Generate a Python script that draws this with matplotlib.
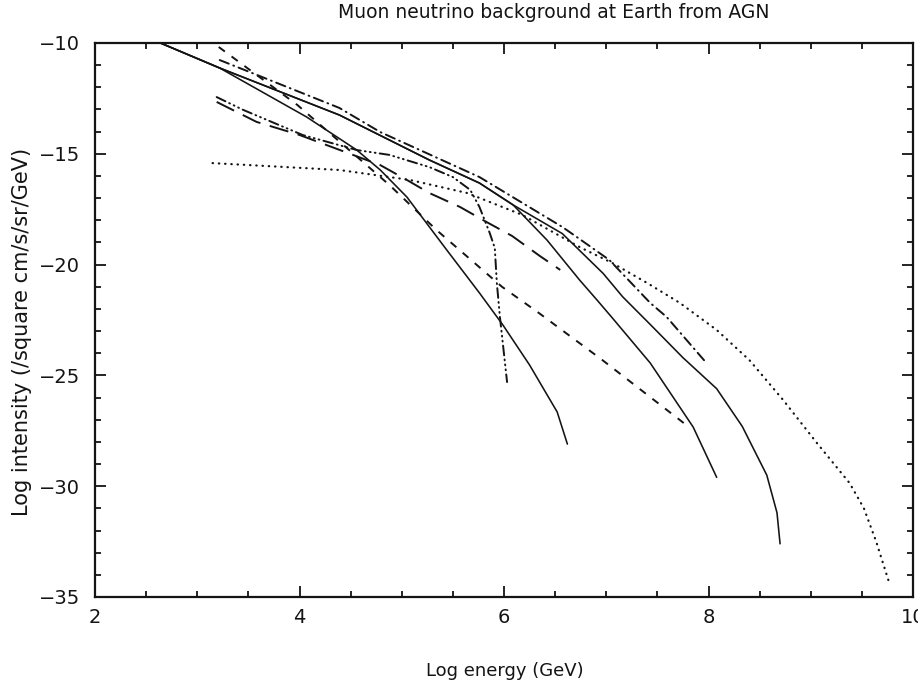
import matplotlib
matplotlib.use("Agg")
import matplotlib.pyplot as plt
from matplotlib.ticker import MultipleLocator

plt.rcParams['font.family'] = ['DejaVu Sans']
plt.rcParams['lines.scale_dashes'] = False

# ---- data (log10 energy [GeV], log10 intensity) ----
solid_a_x = [2.64, 3.22, 4.07, 4.56, 4.79, 5.05, 5.44, 5.76, 5.99, 6.25, 6.52, 6.62]
solid_a_y = [-10.0, -11.13, -13.34, -14.83, -15.73, -16.95, -19.34, -21.28, -22.73, -24.53, -26.65, -28.1]

shared_x = [2.64, 3.22, 4.39, 5.27, 5.76, 6.09]
shared_y = [-10.0, -11.13, -13.25, -15.28, -16.32, -17.31]

solid_b_x = shared_x + [6.42, 6.74, 6.91, 7.06, 7.43, 7.85, 8.08]
solid_b_y = shared_y + [-18.89, -20.7, -21.6, -22.41, -24.44, -27.33, -29.6]

solid_c_x = shared_x + [6.57, 6.97, 7.16, 7.43, 7.75, 8.08, 8.33, 8.57, 8.67, 8.70]
solid_c_y = shared_y + [-18.6, -20.4, -21.45, -22.7, -24.2, -25.6, -27.3, -29.5, -31.2, -32.6]

dotted_x = [3.15, 4.39, 5.08, 5.64, 6.18, 6.74, 7.06, 7.40, 7.72, 8.08, 8.40, 8.73, 9.06, 9.38, 9.52, 9.64, 9.77]
dotted_y = [-15.42, -15.73, -16.18, -16.77, -17.76, -19.21, -19.93, -20.83, -21.73, -22.95, -24.31,
            -26.11, -28.05, -29.86, -31.0, -32.5, -34.4]

dashdot_x = [3.22, 4.39, 4.79, 5.76, 6.57, 6.71, 7.03, 7.43, 7.59, 7.98]
dashdot_y = [-10.77, -12.93, -14.02, -16.05, -18.3, -18.75, -19.79, -21.73, -22.36, -24.44]

dashed_x = [3.21, 3.98, 4.88, 5.34, 5.98, 6.34, 6.96, 7.80]
dashed_y = [-10.18, -12.80, -16.41, -18.44, -21.0, -22.18, -24.3, -27.3]

dash3dot_x = [3.19, 3.45, 4.03, 4.56, 4.88, 5.27, 5.50, 5.67, 5.76, 5.86, 5.91, 5.93, 5.96, 6.03]
dash3dot_y = [-12.44, -13.02, -14.15, -14.83, -15.05, -15.6, -16.05, -16.63, -17.4, -18.57, -19.25,
              -20.83, -22.36, -25.3]

longdash_x = [3.19, 3.58, 4.0, 4.79, 5.05, 5.27, 5.57, 5.83, 6.08, 6.35, 6.55]
longdash_y = [-12.66, -13.56, -14.15, -15.51, -16.18, -16.77, -17.4, -18.08, -18.71, -19.61, -20.24]

x_ticks = [2, 4, 6, 8, 10]
y_ticks = [-35, -30, -25, -20, -15, -10]
title = "Muon neutrino background at Earth from AGN"
xlabel = "Log energy (GeV)"
ylabel = "Log intensity (/square cm/s/sr/GeV)"

# ---- figure ----
W, H = 918, 690
fig = plt.figure(figsize=(W / 100, H / 100), dpi=100)
ax = fig.add_axes([95 / W, 1 - 597 / H, (913 - 95) / W, (597 - 43) / H])

ink = '#141414'
lw = 1.15
ax.plot(solid_a_x, solid_a_y, color=ink, lw=lw, solid_capstyle='round', solid_joinstyle='round')
ax.plot(solid_b_x, solid_b_y, color=ink, lw=lw, solid_capstyle='round', solid_joinstyle='round')
ax.plot(solid_c_x, solid_c_y, color=ink, lw=lw, solid_capstyle='round', solid_joinstyle='round')
ax.plot(dotted_x, dotted_y, color=ink, lw=1.6, linestyle=(0, (0.3, 4.2)), dash_capstyle='round')
ax.plot(dashdot_x, dashdot_y, color=ink, lw=1.4, linestyle=(0, (7, 3.5, 0.6, 3.5)), dash_capstyle='round')
ax.plot(dashed_x, dashed_y, color=ink, lw=1.4, linestyle=(0, (5.5, 6)))
ax.plot(dash3dot_x, dash3dot_y, color=ink, lw=1.4,
        linestyle=(0, (7, 3, 0.6, 3, 0.6, 3, 0.6, 3)), dash_capstyle='round')
ax.plot(longdash_x, longdash_y, color=ink, lw=1.4, linestyle=(0, (14, 7)))

ax.set_xlim(2, 10)
ax.set_ylim(-35, -10)
ax.set_xticks(x_ticks)
ax.set_yticks(y_ticks)
ax.xaxis.set_minor_locator(MultipleLocator(0.5))
ax.yaxis.set_minor_locator(MultipleLocator(1))
ax.tick_params(which='both', direction='in', top=True, right=True, colors=ink, width=1.3)
ax.tick_params(which='major', length=8, labelsize=14)
ax.tick_params(which='minor', length=4.5)
ax.tick_params(axis='x', which='major', pad=8)
ax.tick_params(axis='y', which='major', pad=11)
for s in ax.spines.values():
    s.set_linewidth(1.6)
    s.set_color(ink)

fig.text(554 / W, 1 - 13 / H, title, ha='center', va='center', fontsize=13.5, color=ink)
fig.text(505 / W, 1 - 671 / H, xlabel, ha='center', va='center', fontsize=13, color=ink)
fig.text(22 / W, 1 - 332 / H, ylabel, ha='center', va='center', rotation=90, fontsize=15, color=ink)

fig.savefig("out.png", dpi=100, facecolor='white')
